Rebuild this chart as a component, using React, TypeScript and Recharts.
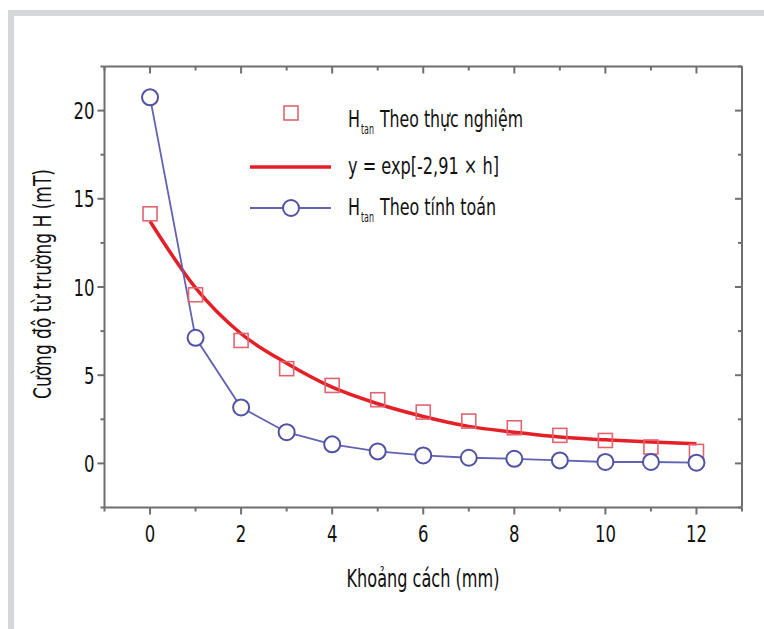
import React from 'react';
import { ComposedChart, Line, XAxis, YAxis } from 'recharts';

// ---- data ----
const distances = [0, 1, 2, 3, 4, 5, 6, 7, 8, 9, 10, 11, 12];
const measured = [14.15, 9.56, 6.97, 5.37, 4.42, 3.61, 2.91, 2.4, 2.02, 1.59, 1.3, 0.93, 0.68];
const fitted = [13.73, 9.95, 7.35, 5.68, 4.32, 3.38, 2.66, 2.1, 1.77, 1.49, 1.34, 1.21, 1.12];
const calculated = [20.75, 7.12, 3.17, 1.77, 1.08, 0.68, 0.45, 0.32, 0.26, 0.17, 0.08, 0.08, 0.04];

const xTicks = [-1, 0, 1, 2, 3, 4, 5, 6, 7, 8, 9, 10, 11, 12, 13];
const xLabels = [0, 2, 4, 6, 8, 10, 12];
const yTicks = [-2.5, 0, 2.5, 5, 7.5, 10, 12.5, 15, 17.5, 20, 22.5];
const yLabels = [0, 5, 10, 15, 20];

const xTitle = 'Khoảng cách (mm)';
const yTitle = 'Cường độ từ trường H (mT)';
const legendMeasured = 'Theo thực nghiệm';
const legendFit = 'y = exp[-2,91 × h]';
const legendCalc = 'Theo tính toán';

const data = distances.map((x, i) => ({
  x,
  measured: measured[i],
  fitted: fitted[i],
  calculated: calculated[i],
}));

const FONT = "'Liberation Sans Narrow', 'DejaVu Sans Condensed', 'Liberation Sans', sans-serif";
const AXIS = '#6f6f6f';
const SQUARE = '#e2646f';
const RED = '#e41f26';
const BLUE = '#6262b2';
const BLUE_DOT = '#5151a4';
const TEXT = '#111';
const TICK_FS = 23.5;
const DIGIT_W = 10.5;

const BottomTick = (props: any) => {
  const { x, y, payload } = props;
  const v = payload.value;
  const major = xLabels.includes(v);
  const s = String(v);
  return (
    <g>
      <line x1={x} x2={x} y1={y} y2={y + (major ? 7 : 4)} stroke={AXIS} strokeWidth={2} />
      {major && (
        <text
          x={x}
          y={y + 34}
          textAnchor="middle"
          fontFamily={FONT}
          fontSize={TICK_FS}
          fill={TEXT}
          textLength={s.length * DIGIT_W}
          lengthAdjust="spacingAndGlyphs"
        >
          {s}
        </text>
      )}
    </g>
  );
};

const TopTick = (props: any) => {
  const { x, y, payload } = props;
  const major = xLabels.includes(payload.value);
  return <line x1={x} x2={x} y1={y} y2={y + (major ? 7 : 4)} stroke={AXIS} strokeWidth={2} />;
};

const LeftTick = (props: any) => {
  const { x, y, payload } = props;
  const v = payload.value;
  const major = yLabels.includes(v);
  const s = String(v);
  return (
    <g>
      <line x1={x - (major ? 7 : 4)} x2={x} y1={y} y2={y} stroke={AXIS} strokeWidth={2} />
      {major && (
        <text
          x={x - 10}
          y={y + 8.5}
          textAnchor="end"
          fontFamily={FONT}
          fontSize={TICK_FS}
          fill={TEXT}
          textLength={s.length * DIGIT_W}
          lengthAdjust="spacingAndGlyphs"
        >
          {s}
        </text>
      )}
    </g>
  );
};

const RightTick = (props: any) => {
  const { x, y, payload } = props;
  const major = yLabels.includes(payload.value);
  return <line x1={x - (major ? 7 : 4)} x2={x} y1={y} y2={y} stroke={AXIS} strokeWidth={2} />;
};

const SquareDot = (props: any) => {
  const { cx, cy } = props;
  if (cx == null || cy == null) return null;
  return <rect x={cx - 7} y={cy - 7} width={14} height={14} fill="none" stroke={SQUARE} strokeWidth={1.6} />;
};

const CircleDot = (props: any) => {
  const { cx, cy } = props;
  if (cx == null || cy == null) return null;
  return <circle cx={cx} cy={cy} r={8} fill="#fff" stroke={BLUE_DOT} strokeWidth={2} />;
};

export default function App() {
  return (
    <div style={{ position: 'absolute', left: 0, top: 0, width: 764, height: 629, background: '#fff', overflow: 'hidden' }}>
      <div style={{ position: 'absolute', left: 8, top: 10, right: 0, height: 6, background: '#d6d7d9' }} />
      <div style={{ position: 'absolute', left: 8, top: 10, width: 6, bottom: 0, background: '#d6d7d9' }} />
      <div style={{ position: 'absolute', left: 0, top: 0 }}>
        <ComposedChart
          width={764}
          height={629}
          data={data}
          margin={{ top: 65.5, right: 21, bottom: 61.5, left: 44.5 }}
        >
          <XAxis
            dataKey="x"
            type="number"
            domain={[-1, 13]}
            allowDataOverflow
            ticks={xTicks}
            interval={0}
            tick={<BottomTick />}
            tickLine={false}
            tickSize={0}
            tickMargin={0}
            height={60}
            axisLine={{ stroke: AXIS, strokeWidth: 2 }}
          />
          <XAxis
            xAxisId="top"
            orientation="top"
            dataKey="x"
            type="number"
            domain={[-1, 13]}
            allowDataOverflow
            ticks={xTicks}
            interval={0}
            tick={<TopTick />}
            tickLine={false}
            tickSize={0}
            tickMargin={0}
            height={1}
            axisLine={{ stroke: AXIS, strokeWidth: 2 }}
          />
          <YAxis
            type="number"
            domain={[-2.5, 22.5]}
            allowDataOverflow
            ticks={yTicks}
            interval={0}
            tick={<LeftTick />}
            tickLine={false}
            tickSize={0}
            tickMargin={0}
            width={60}
            axisLine={{ stroke: AXIS, strokeWidth: 2 }}
          />
          <YAxis
            yAxisId="right"
            orientation="right"
            type="number"
            domain={[-2.5, 22.5]}
            allowDataOverflow
            ticks={yTicks}
            interval={0}
            tick={<RightTick />}
            tickLine={false}
            tickSize={0}
            tickMargin={0}
            width={1}
            axisLine={{ stroke: AXIS, strokeWidth: 2 }}
          />
          <Line
            dataKey="measured"
            stroke="none"
            dot={<SquareDot />}
            activeDot={false}
            isAnimationActive={false}
          />
          <Line
            dataKey="fitted"
            type="monotone"
            stroke={RED}
            strokeWidth={3.5}
            dot={false}
            activeDot={false}
            isAnimationActive={false}
          />
          <Line
            dataKey="calculated"
            type="linear"
            stroke={BLUE}
            strokeWidth={1.8}
            dot={<CircleDot />}
            activeDot={false}
            isAnimationActive={false}
          />
        </ComposedChart>
      </div>
      <svg
        width={764}
        height={629}
        style={{ position: 'absolute', left: 0, top: 0, pointerEvents: 'none' }}
      >
        <text
          x={423}
          y={587}
          textAnchor="middle"
          fontFamily={FONT}
          fontSize={24}
          fill={TEXT}
          textLength={153}
          lengthAdjust="spacingAndGlyphs"
        >
          {xTitle}
        </text>
        <text
          x={51}
          y={284}
          transform="rotate(-90, 51, 284)"
          textAnchor="middle"
          fontFamily={FONT}
          fontSize={24}
          fill={TEXT}
          textLength={230}
          lengthAdjust="spacingAndGlyphs"
        >
          {yTitle}
        </text>

        {/* legend */}
        <rect x={284} y={106} width={14} height={14} fill="none" stroke={SQUARE} strokeWidth={1.6} />
        <text x={348} y={127} fontFamily={FONT} fontSize={23} fill={TEXT} textLength={12} lengthAdjust="spacingAndGlyphs">H</text>
        <text x={361} y={134} fontFamily={FONT} fontSize={14} fill={TEXT} textLength={13} lengthAdjust="spacingAndGlyphs">tan</text>
        <text x={380} y={127} fontFamily={FONT} fontSize={23} fill={TEXT} textLength={143} lengthAdjust="spacingAndGlyphs">
          {legendMeasured}
        </text>

        <line x1={250} x2={331} y1={167} y2={167} stroke={RED} strokeWidth={3.5} />
        <text x={348} y={174} fontFamily={FONT} fontSize={23} fill={TEXT} textLength={151} lengthAdjust="spacingAndGlyphs">
          {legendFit}
        </text>

        <line x1={250} x2={331} y1={208} y2={208} stroke={BLUE} strokeWidth={1.8} />
        <circle cx={291} cy={208} r={8} fill="#fff" stroke={BLUE_DOT} strokeWidth={2} />
        <text x={348} y={215} fontFamily={FONT} fontSize={23} fill={TEXT} textLength={12} lengthAdjust="spacingAndGlyphs">H</text>
        <text x={361} y={222} fontFamily={FONT} fontSize={14} fill={TEXT} textLength={13} lengthAdjust="spacingAndGlyphs">tan</text>
        <text x={380} y={215} fontFamily={FONT} fontSize={23} fill={TEXT} textLength={116} lengthAdjust="spacingAndGlyphs">
          {legendCalc}
        </text>
      </svg>
    </div>
  );
}
